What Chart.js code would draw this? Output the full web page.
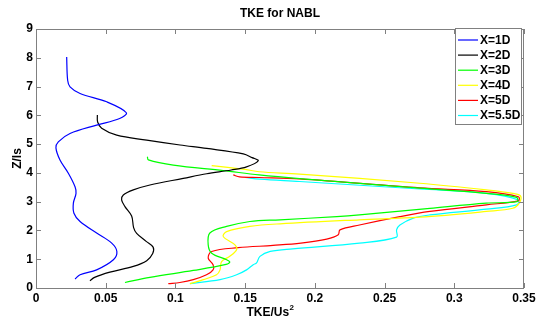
<!DOCTYPE html>
<html>
<head>
<meta charset="utf-8">
<script src="https://cdn.jsdelivr.net/npm/chart.js@4/dist/chart.umd.min.js"></script>
<style>
  html, body { margin: 0; padding: 0; background: #fff; }
  #wrap { width: 540px; height: 320px; }
</style>
</head>
<body>
<div id="wrap"><canvas id="tkeChart" width="540" height="320"></canvas></div>
<script>
// -----------------------------
// data (TKE/Us^2 vs Z/ls), bottom -> top
// -----------------------------
const seriesLabels = ["X=1D", "X=2D", "X=3D", "X=4D", "X=5D", "X=5.5D"];
const xTicks = [0, 0.05, 0.1, 0.15, 0.2, 0.25, 0.3, 0.35];
const yTicks = [0, 1, 2, 3, 4, 5, 6, 7, 8, 9];

const tke1D = [0.028, 0.0316, 0.0435, 0.0555, 0.058, 0.0543, 0.0435, 0.0316, 0.0272, 0.0268, 0.0287, 0.028, 0.0232, 0.0172, 0.0143, 0.016, 0.0244, 0.0435, 0.060, 0.0648, 0.0507, 0.0316, 0.0244, 0.0227, 0.022];
const z1D   = [0.31, 0.46, 0.63, 0.98, 1.27, 1.56, 1.91, 2.31, 2.60, 2.95, 3.29, 3.52, 3.99, 4.45, 4.87, 5.08, 5.37, 5.66, 5.89, 6.09, 6.47, 6.76, 6.99, 7.22, 8.03];

const tke2D = [0.0387, 0.042, 0.053, 0.0698, 0.0794, 0.0837, 0.084, 0.079, 0.0722, 0.070, 0.0686, 0.0638, 0.0614, 0.0626, 0.0698, 0.0817, 0.1056, 0.1224, 0.14, 0.151, 0.1594, 0.155, 0.1487, 0.1224, 0.1033, 0.0794, 0.0579, 0.0471, 0.0442, 0.044];
const z2D   = [0.25, 0.37, 0.55, 0.75, 0.95, 1.2, 1.42, 1.62, 1.9, 2.1, 2.5, 2.83, 3.06, 3.23, 3.41, 3.58, 3.81, 3.97, 4.1, 4.21, 4.42, 4.53, 4.66, 4.85, 4.97, 5.14, 5.31, 5.55, 5.77, 6.01];

const tke3D = [0.0638, 0.0817, 0.1128, 0.1355, 0.139, 0.1367, 0.126, 0.1235, 0.1247, 0.1367, 0.1534, 0.175, 0.2157, 0.232, 0.2825, 0.323, 0.345, 0.3447, 0.323, 0.2753, 0.189, 0.16, 0.1343, 0.0985, 0.0806, 0.0799];
const z3D   = [0.19, 0.37, 0.61, 0.81, 0.90, 0.98, 1.21, 1.50, 1.91, 2.14, 2.31, 2.37, 2.48, 2.54, 2.77, 2.95, 3.0, 3.15, 3.29, 3.47, 3.80, 3.93, 4.08, 4.27, 4.45, 4.56];

const tke4D = [0.1104, 0.12, 0.1295, 0.132, 0.1331, 0.139, 0.1439, 0.1427, 0.1343, 0.1367, 0.1534, 0.175, 0.232, 0.2753, 0.323, 0.342, 0.3466, 0.3475, 0.342, 0.323, 0.2753, 0.189, 0.16, 0.15, 0.126];
const z4D   = [0.15, 0.29, 0.46, 0.63, 0.92, 1.10, 1.33, 1.50, 1.79, 1.96, 2.14, 2.23, 2.37, 2.46, 2.66, 2.77, 2.95, 3.2, 3.29, 3.41, 3.64, 3.96, 4.04, 4.12, 4.25];

const tke5D = [0.0949, 0.1032, 0.1128, 0.1223, 0.127, 0.127, 0.1235, 0.126, 0.145, 0.17, 0.19, 0.2085, 0.2168, 0.218, 0.232, 0.261, 0.2825, 0.323, 0.346, 0.346, 0.323, 0.2753, 0.189, 0.16, 0.146, 0.1415];
const z5D   = [0.15, 0.19, 0.29, 0.46, 0.63, 0.81, 1.04, 1.27, 1.40, 1.48, 1.56, 1.70, 1.85, 2.02, 2.19, 2.48, 2.66, 2.89, 3.03, 3.17, 3.35, 3.48, 3.79, 3.84, 3.86, 3.93];

const tke55D = [0.1104, 0.132, 0.1439, 0.151, 0.1558, 0.1582, 0.1606, 0.168, 0.184, 0.232, 0.2586, 0.2586, 0.261, 0.2706, 0.2825, 0.323, 0.3447, 0.346, 0.323, 0.2753, 0.189, 0.1606, 0.150];
const z55D   = [0.15, 0.29, 0.46, 0.63, 0.81, 0.87, 1.10, 1.27, 1.36, 1.56, 1.77, 2.02, 2.19, 2.43, 2.54, 2.74, 2.89, 3.06, 3.29, 3.44, 3.70, 3.78, 3.84];

const tkeSeries = [tke1D, tke2D, tke3D, tke4D, tke5D, tke55D];
const zSeries = [z1D, z2D, z3D, z4D, z5D, z55D];

// -----------------------------
// styles
// -----------------------------
const colors = ["#0000ff", "#000000", "#00ff00", "#ffff00", "#ff0000", "#00ffff"];
const axisColor = "#808080";
const fontFamily = "'Liberation Sans', Arial, sans-serif";
const boldFont = "bold 12px " + fontFamily;

const datasets = seriesLabels.map((label, i) => ({
  label,
  data: tkeSeries[i].map((x, k) => ({ x, y: zSeries[i][k] })),
  showLine: true,
  borderColor: colors[i],
  backgroundColor: colors[i],
  borderWidth: 1.2,
  pointRadius: 0,
  tension: 0.35,
}));

// box, inward ticks, title, axis labels and legend (MATLAB look)
const decorPlugin = {
  id: "decor",
  afterDraw(chart) {
    const { ctx, chartArea: a, scales } = chart;
    ctx.save();
    ctx.strokeStyle = axisColor;
    ctx.lineWidth = 1;
    ctx.strokeRect(a.left + 0.5, a.top + 0.5, a.right - a.left - 1, a.bottom - a.top);
    ctx.beginPath();
    xTicks.forEach((v) => {
      const px = Math.round(scales.x.getPixelForValue(v)) + 0.5;
      ctx.moveTo(px, a.bottom); ctx.lineTo(px, a.bottom - 5);
      ctx.moveTo(px, a.top); ctx.lineTo(px, a.top + 5);
    });
    yTicks.forEach((v) => {
      const py = Math.round(scales.y.getPixelForValue(v)) + 0.5;
      ctx.moveTo(a.left, py); ctx.lineTo(a.left + 5, py);
      ctx.moveTo(a.right, py); ctx.lineTo(a.right - 5, py);
    });
    ctx.stroke();

    ctx.fillStyle = "#000";
    ctx.font = boldFont;
    ctx.textAlign = "center";
    ctx.textBaseline = "middle";
    ctx.fillText("TKE for NABL", (a.left + a.right) / 2, 14);

    // x label with superscript
    const main = "TKE/Us";
    const wMain = ctx.measureText(main).width;
    ctx.font = "bold 8px " + fontFamily;
    const wSup = ctx.measureText("2").width;
    const x0 = 270 - (wMain + wSup) / 2;
    ctx.textAlign = "left";
    ctx.fillText("2", x0 + wMain + 0.5, 308);
    ctx.font = boldFont;
    ctx.fillText(main, x0, 313);

    // y label
    ctx.save();
    ctx.translate(18, (a.top + a.bottom) / 2);
    ctx.rotate(-Math.PI / 2);
    ctx.textAlign = "center";
    ctx.fillText("Z/ls", 0, 0);
    ctx.restore();

    // legend
    const lx = 455.5, ly = 28.5, lw = 66, lh = 96;
    ctx.fillStyle = "#fff";
    ctx.fillRect(lx, ly, lw, lh);
    ctx.strokeStyle = axisColor;
    ctx.strokeRect(lx, ly, lw, lh);
    chart.data.datasets.forEach((ds, i) => {
      const y = 40 + i * 15.1;
      ctx.strokeStyle = ds.borderColor;
      ctx.lineWidth = 1.2;
      ctx.beginPath();
      ctx.moveTo(458, y); ctx.lineTo(478, y);
      ctx.stroke();
      ctx.fillStyle = "#000";
      ctx.textAlign = "left";
      ctx.fillText(ds.label, 480, y + 0.5);
    });
    ctx.restore();
  },
};

const tickFont = { family: fontFamily, size: 12, weight: "bold" };

new Chart(document.getElementById("tkeChart").getContext("2d"), {
  type: "scatter",
  data: { datasets },
  options: {
    responsive: false,
    animation: false,
    layout: { padding: { top: 29, right: 16, left: 0, bottom: 0 } },
    plugins: { legend: { display: false }, tooltip: { enabled: false }, title: { display: false } },
    scales: {
      x: {
        type: "linear",
        min: 0,
        max: 0.35,
        afterFit: (s) => { s.height = 32; },
        afterBuildTicks: (s) => { s.ticks = xTicks.map((value) => ({ value })); },
        grid: { display: false, drawTicks: false, tickLength: 0 },
        border: { display: false },
        ticks: {
          padding: 3,
          color: "#000",
          font: tickFont,
          callback: (v) => String(+Number(v).toFixed(2)),
          maxRotation: 0,
        },
      },
      y: {
        type: "linear",
        min: 0,
        max: 9,
        afterFit: (s) => { s.width = 36; },
        afterBuildTicks: (s) => { s.ticks = yTicks.map((value) => ({ value })); },
        grid: { display: false, drawTicks: false, tickLength: 0 },
        border: { display: false },
        ticks: {
          padding: 3,
          color: "#000",
          font: tickFont,
        },
      },
    },
  },
  plugins: [decorPlugin],
});
</script>
</body>
</html>
